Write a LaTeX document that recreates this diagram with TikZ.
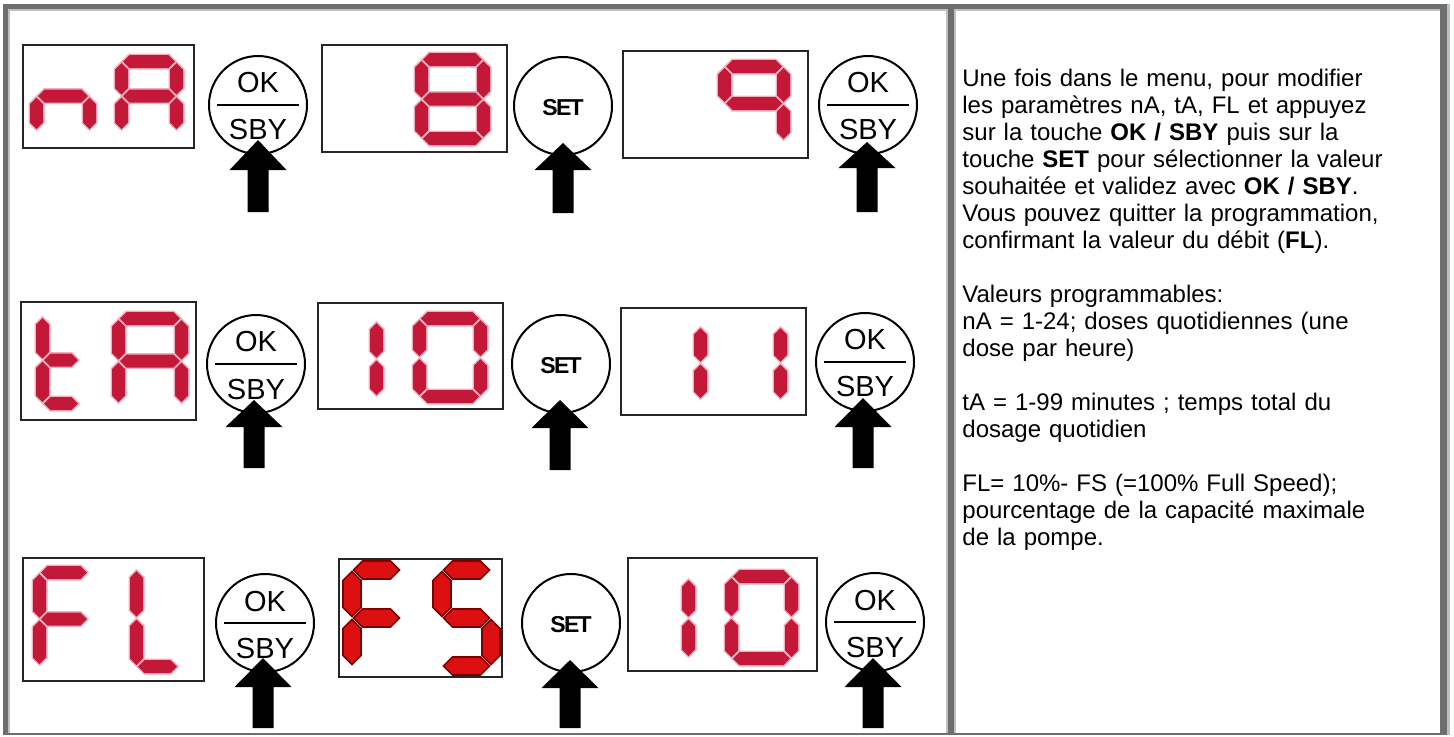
\documentclass[tikz,border=0pt]{standalone}
\usepackage{fontspec}
\setmainfont{Liberation Sans}
\definecolor{segred}{RGB}{196,24,56}
\definecolor{segpink}{RGB}{242,175,190}
\definecolor{fsred}{RGB}{220,16,16}
\definecolor{fsdark}{RGB}{120,0,0}
\definecolor{framedark}{RGB}{110,110,110}
\definecolor{framelight}{RGB}{192,192,192}
\def\segT{13}
\def\sgap{1.5}
\newcommand\hseg[3]{\fill[seg] ({#1},{#3}) -- ({#1+\segT/2},{#3-\segT/2}) -- ({#2-\segT/2},{#3-\segT/2}) -- ({#2},{#3}) -- ({#2-\segT/2},{#3+\segT/2}) -- ({#1+\segT/2},{#3+\segT/2}) -- cycle;}
\newcommand\vseg[3]{\fill[seg] ({#1},{#2}) -- ({#1+\segT/2},{#2+\segT/2}) -- ({#1+\segT/2},{#3-\segT/2}) -- ({#1},{#3}) -- ({#1-\segT/2},{#3-\segT/2}) -- ({#1-\segT/2},{#2+\segT/2}) -- cycle;}
\newcommand\sgA{\hseg{\dL+\segT/2+\sgap}{\dL+\dW-\segT/2-\sgap}{\dT+\segT/2}}
\newcommand\sgG{\hseg{\dL+\segT/2+\sgap}{\dL+\dW-\segT/2-\sgap}{\dT+\dH/2}}
\newcommand\sgD{\hseg{\dL+\segT/2+\sgap}{\dL+\dW-\segT/2-\sgap}{\dT+\dH-\segT/2}}
\newcommand\sgF{\vseg{\dL+\segT/2}{\dT+\segT/2+\sgap}{\dT+\dH/2-\sgap}}
\newcommand\sgB{\vseg{\dL+\dW-\segT/2}{\dT+\segT/2+\sgap}{\dT+\dH/2-\sgap}}
\newcommand\sgE{\vseg{\dL+\segT/2}{\dT+\dH/2+\sgap}{\dT+\dH-\segT/2-\sgap}}
\newcommand\sgC{\vseg{\dL+\dW-\segT/2}{\dT+\dH/2+\sgap}{\dT+\dH-\segT/2-\sgap}}
\newcommand\digit[5]{\def\dL{#1}\def\dT{#2}\def\dW{#3}\def\dH{#4}\foreach \s in {#5}{\csname sg\s\endcsname}}
\newcommand\dispbox[5]{\node[dbox, minimum width={((#4)-(#2))*0.5pt}, minimum height={((#5)-(#3))*0.5pt}] (#1) at ({((#2)+(#4))/2},{((#3)+(#5))/2}) {};}
\newcommand\okbtn[3]{\node[btn] (#1) at (#2,#3) {};
  \node[btnlbl] (#1o) at ([yshift=11pt]#1.center) {OK};
  \node[btnlbl] (#1s) at ([yshift=-12.5pt]#1.center) {SBY};
  \draw[line width=0.8pt] ([xshift=-20.5pt]#1.center) -- ([xshift=20.5pt]#1.center);}
\newcommand\setbtn[3]{\node[btn] (#1) at (#2,#3) {};
  \node[setlbl] (#1t) at ([yshift=-1pt]#1.center) {SET};}
\newcommand\pusharrow[4]{\fill[black] ({#1},{#2}) -- ({#1+28.5},{#3}) -- ({#1+10.5},{#3}) -- ({#1+10.5},{#4}) -- ({#1-10.5},{#4}) -- ({#1-10.5},{#3}) -- ({#1-28.5},{#3}) -- cycle;}
\begin{document}
\begin{tikzpicture}[x=0.5pt,y=-0.5pt,
  seg/.style={fill=segred, preaction={draw=segpink, line width=1.5pt}},
  dbox/.style={draw=black!85, line width=1pt, fill=white, inner sep=0pt, outer sep=0pt, rectangle},
  btn/.style={circle, draw=black, line width=1pt, minimum size=49pt, inner sep=0pt, fill=white},
  btnlbl/.style={inner sep=0pt, font=\fontsize{14.5}{14.5}\selectfont},
  setlbl/.style={inner sep=0pt, font=\fontsize{11.5}{11.5}\selectfont\bfseries\addfontfeature{LetterSpace=-7}},
  bodytext/.style={anchor=base west, inner sep=0pt, text width=250pt, align=left, font=\fontsize{12}{13.5}\selectfont}]
\useasboundingbox (0,0) rectangle (1454,736);
\fill[white] (0,0) rectangle (1454,736);
% frame
\fill[framedark] (3,4) rectangle (8,735);
\fill[framedark] (3,4) rectangle (1447,9);
\fill[framedark] (1440,4) rectangle (1447,735);
\fill[framedark] (948,9) rectangle (954,735);
\fill[framedark] (3,733) rectangle (1447,735);
\fill[framelight] (8,9) rectangle (10,733);
\fill[framelight] (8,9) rectangle (946,11);
\fill[framelight] (946,9) rectangle (948,733);
\fill[framelight] (954,9) rectangle (956,733);
\fill[framelight] (956,9) rectangle (1440,11);
\fill[framelight] (1447,4) rectangle (1450,735);
% display boxes
\dispbox{d11}{23}{45}{194}{148}
\dispbox{d12}{322}{45}{507}{152}
\dispbox{d13}{623}{51}{808}{158}
\dispbox{d21}{21}{302}{196}{420}
\dispbox{d22}{318}{303}{503}{409}
\dispbox{d23}{621}{308}{806}{415}
\dispbox{d31}{23}{558}{204}{681}
\dispbox{d32}{339}{559}{502}{677}
\dispbox{d33}{628}{558}{817}{671}
% digits row 1
\digit{30}{55}{66}{82}{G,E,C}
\digit{115}{55}{68}{82}{A,B,C,E,F,G}
\digit{415}{53}{75}{92}{A,B,C,D,E,F,G}
\digit{718}{60}{72}{87}{A,B,C,F,G}
% row 2
\digit{36}{310}{50}{100}{F,E,G,D}
\digit{112}{312}{76}{98}{A,B,C,E,F,G}
\digit{315}{315}{68}{88}{B,C}
\digit{413}{312}{74}{91}{A,B,C,D,E,F}
\digit{637}{320}{70}{86}{B,C}
\digit{717}{320}{70}{86}{B,C}
% row 3
\digit{33}{566}{62}{106}{A,F,E,G}
\digit{130}{563}{55}{110}{F,E,D}
\begin{scope}
\tikzset{seg/.style={fill=fsred, draw=fsdark, line width=0.8pt}}
\def\segT{18}
\digit{343}{561}{67}{114}{A,F,E,G}
\digit{433}{561}{67}{114}{A,F,G,C,D}
\end{scope}
\digit{625}{572}{70}{92}{B,C}
\digit{725}{570}{73}{95}{A,B,C,D,E,F}
% buttons
\okbtn{b11}{258}{105}
\setbtn{b12}{563}{106}
\okbtn{b13}{868}{105}
\okbtn{b21}{256}{364}
\setbtn{b22}{561}{364}
\okbtn{b23}{865}{362}
\okbtn{b31}{265}{623}
\setbtn{b32}{571}{623}
\okbtn{b33}{875}{622}
% arrows
\pusharrow{258}{140}{170}{212}
\pusharrow{563}{143}{170}{213}
\pusharrow{867}{142}{168}{212}
\pusharrow{254}{400}{427}{468}
\pusharrow{560}{400}{428}{470}
\pusharrow{863}{398}{427}{468}
\pusharrow{263}{658}{687}{728}
\pusharrow{570}{660}{688}{728}
\pusharrow{873}{658}{687}{728}
% text
\node[bodytext] (txt) at (962,86) {Une fois dans le menu, pour modifier\\
les paramètres nA, tA, FL et appuyez\\
sur la touche \textbf{OK / SBY} puis sur la\\
touche \textbf{SET} pour sélectionner la valeur\\
souhaitée et validez avec \textbf{OK / SBY}.\\
Vous pouvez quitter la programmation,\\
confirmant la valeur du débit (\textbf{FL}).\\[13.5pt]
Valeurs programmables:\\
nA = 1-24; doses quotidiennes (une\\
dose par heure)\\[13.5pt]
tA = 1-99 minutes ; temps total du\\
dosage quotidien\\[13.5pt]
FL= 10\%- FS (=100\% Full Speed);\\
pourcentage de la capacité maximale\\
de la pompe.};
\end{tikzpicture}
\end{document}
